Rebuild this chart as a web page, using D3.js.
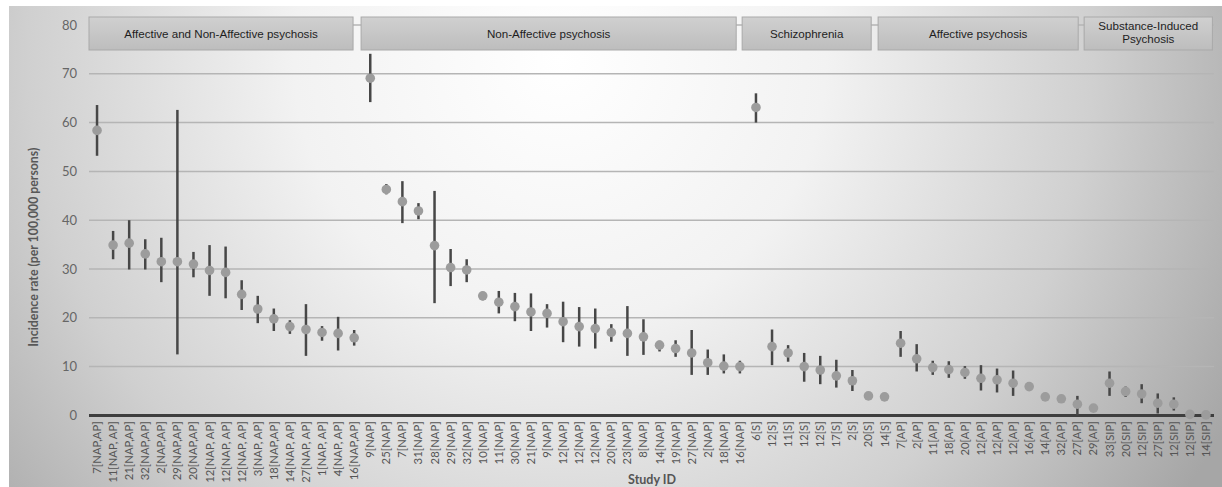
<!DOCTYPE html>
<html><head><meta charset="utf-8">
<script src="https://cdn.jsdelivr.net/npm/d3@7"></script>
<style>body{margin:0;background:#fff}svg{display:block}</style>
</head><body><svg id="c" width="1222" height="487"></svg>
<script>
// ---- data ----
const groupNames = ["Affective and Non-Affective psychosis","Non-Affective psychosis","Schizophrenia","Affective psychosis","Substance-Induced\nPsychosis"];
const categories = [
 "7[NAP,AP]","11[NAP, AP]","21[NAP,AP]","32[NAP,AP]","2[NAP,AP]","29[NAP,AP]","20[NAP,AP]","12[NAP, AP]","12[NAP, AP]","12[NAP, AP]","3[NAP, AP]","18[NAP,AP]","14[NAP, AP]","27[NAP, AP]","1[NAP, AP]","4[NAP, AP]","16[NAP,AP]",
 "9[NAP]","25[NAP]","7[NAP]","31[NAP]","28[NAP]","29[NAP]","32[NAP]","10[NAP]","11[NAP]","30[NAP]","21[NAP]","9[NAP]","12[NAP]","12[NAP]","12[NAP]","20[NAP]","23[NAP]","8[NAP]","14[NAP]","19[NAP]","27[NAP]","2[NAP]","18[NAP]","16[NAP]",
 "6[S]","12[S]","11[S]","12[S]","12[S]","17[S]","2[S]","20[S]","14[S]",
 "7[AP]","2[AP]","11[AP]","18[AP]","20[AP]","12[AP]","12[AP]","12[AP]","16[AP]","14[AP]","32[AP]","27[AP]","29[AP]",
 "33[SIP]","20[SIP]","12[SIP]","27[SIP]","12[SIP]","12[SIP]","14[SIP]"];
const groupOfCategory = [].concat(Array(17).fill(0),Array(24).fill(1),Array(9).fill(2),Array(13).fill(3),Array(7).fill(4));
const rate = [
 58.4,34.9,35.3,33.1,31.5,31.5,31.0,29.7,29.3,24.8,21.8,19.8,18.2,17.6,17.0,16.8,15.9,
 69.1,46.3,43.8,41.9,34.8,30.3,29.8,24.5,23.2,22.3,21.2,20.9,19.2,18.2,17.8,17.0,16.8,16.1,14.4,13.7,12.8,10.8,10.1,10.0,
 63.1,14.1,12.8,10.0,9.3,8.1,7.1,4.0,3.8,
 14.8,11.6,9.8,9.4,8.8,7.6,7.3,6.6,5.9,3.8,3.4,2.3,1.5,
 6.6,4.9,4.4,2.5,2.3,0.2,0.1];
const lower = [
 53.2,32.0,29.9,29.9,27.3,12.5,28.3,24.5,24.0,21.6,18.9,17.3,16.7,12.2,15.3,13.3,14.3,
 64.2,45.3,39.4,40.2,23.0,26.5,27.3,23.6,20.9,19.3,17.3,18.0,15.0,14.1,13.7,15.1,12.2,12.4,13.1,12.0,8.3,8.3,8.6,8.6,
 60.0,10.3,11.0,6.9,6.4,5.7,5.0,3.8,3.6,
 12.0,9.0,8.3,7.7,7.5,5.1,4.7,4.0,5.1,3.6,3.2,0.0,1.3,
 4.0,3.8,2.5,0.4,1.0,0.1,0.0];
const upper = [
 63.6,37.8,40.0,36.1,36.4,62.6,33.5,34.9,34.6,27.7,24.5,21.9,19.5,22.8,18.3,20.2,17.5,
 74.1,47.4,48.0,43.5,46.0,34.1,32.0,25.3,25.5,25.1,25.0,22.8,23.3,22.2,21.9,18.7,22.4,19.7,15.3,15.4,17.5,13.5,12.5,11.2,
 66.0,17.6,14.4,12.8,12.2,11.4,9.3,4.2,4.0,
 17.3,14.6,11.2,11.1,10.1,10.3,9.6,9.2,6.8,4.0,3.6,4.0,1.7,
 9.0,5.9,6.4,4.5,3.7,0.3,0.2];
const yTicks = [0,10,20,30,40,50,60,70,80];

// ---- layout ----
const W = 1222, H = 487;
const mLeft = 89, mRight = 1214, mTop = 25, mBottom = 415.4;
// header box spans in category-index units (start, end)
const headerSpan = [[-0.5,15.93],[16.43,39.77],[40.14,48.17],[48.6,61.05],[61.42,69.4]];

const svg = d3.select("#c");
const defs = svg.append("defs");
const bg = defs.append("radialGradient").attr("id","bg").attr("gradientUnits","userSpaceOnUse")
  .attr("cx",560).attr("cy",60).attr("r",760);
bg.append("stop").attr("offset",0).attr("stop-color","#ffffff");
bg.append("stop").attr("offset",0.35).attr("stop-color","#f2f2f2");
bg.append("stop").attr("offset",0.7).attr("stop-color","#d0d0d0");
bg.append("stop").attr("offset",1).attr("stop-color","#a6a6a6");
const hg = defs.append("linearGradient").attr("id","hg").attr("x1",0).attr("y1",0).attr("x2",0).attr("y2",1);
hg.append("stop").attr("offset",0).attr("stop-color","#d0d0d0");
hg.append("stop").attr("offset",1).attr("stop-color","#bdbdbd");

svg.append("rect").attr("x",9).attr("y",6).attr("width",W-9).attr("height",H-6).attr("fill","url(#bg)");

const idx = d3.range(categories.length);
const x = d3.scaleBand().domain(idx).range([mLeft,mRight]).padding(0);
const y = d3.scaleLinear().domain([0,80]).range([mBottom,mTop]);
const cx = i => x(i) + x.bandwidth()/2;

// gridlines
svg.append("g").selectAll("line").data(yTicks.filter(t=>t>0)).join("line")
  .attr("x1",mLeft).attr("x2",mRight).attr("y1",d=>y(d)).attr("y2",d=>y(d))
  .attr("stroke","#b5b5b5").attr("stroke-width",1.5);

// y axis labels
const ya = svg.append("g").attr("transform",`translate(${mLeft},0)`)
  .call(d3.axisLeft(y).tickValues(yTicks).tickSize(0).tickPadding(12));
ya.select(".domain").remove();
ya.selectAll("text").attr("font-family","Lato, 'Open Sans', sans-serif").attr("font-size",13).attr("fill","#666");

// header boxes
const hdr = svg.append("g");
headerSpan.forEach((s,k)=>{
  const x0 = mLeft + x.step()*(s[0]+0.5), x1 = mLeft + x.step()*(s[1]+0.5);
  hdr.append("rect").attr("x",x0).attr("y",17).attr("width",x1-x0).attr("height",33)
    .attr("fill","url(#hg)").attr("stroke","#a9a9a9").attr("stroke-width",1);
  const lines = groupNames[k].split("\n");
  const t = hdr.append("text").attr("x",(x0+x1)/2).attr("text-anchor","middle")
    .attr("font-family","'Liberation Sans', Arial, sans-serif").attr("font-size",11.6).attr("fill","#1e1e1e");
  lines.forEach((ln,j)=>{
    t.append("tspan").attr("x",(x0+x1)/2).attr("y", lines.length===1 ? 37.5 : 30 + j*13).text(ln);
  });
});

// zero axis line
svg.append("line").attr("x1",mLeft).attr("x2",mRight).attr("y1",y(0)).attr("y2",y(0))
  .attr("stroke","#3e3e3e").attr("stroke-width",3);

// error bars
svg.append("g").selectAll("line").data(idx).join("line")
  .attr("x1",cx).attr("x2",cx).attr("y1",i=>y(lower[i])).attr("y2",i=>y(upper[i]))
  .attr("stroke","#474747").attr("stroke-width",2.5);

// points
svg.append("g").selectAll("circle").data(idx).join("circle")
  .attr("cx",cx).attr("cy",i=>y(rate[i])).attr("r",4.8)
  .attr("fill","#9c9c9c");

// x axis labels
const xa = svg.append("g").attr("transform",`translate(0,${mBottom})`)
  .call(d3.axisBottom(x).tickSize(0).tickFormat(i=>categories[i]));
xa.select(".domain").remove();
xa.selectAll("text").attr("transform","rotate(-90)").attr("text-anchor","end")
  .attr("x",-6).attr("y",0).attr("dy","0.35em")
  .attr("font-family","Lato, 'Open Sans', sans-serif").attr("font-size",11.3).attr("fill","#555");

// axis titles
svg.append("text").attr("transform",`translate(38,${(mTop+mBottom)/2+27}) rotate(-90)`).attr("text-anchor","middle")
  .attr("font-family","Lato, 'Open Sans', sans-serif").attr("font-size",12.3).attr("font-weight","bold").attr("fill","#585858")
  .text("Incidence rate (per 100,000 persons)");
svg.append("text").attr("x",652).attr("y",484).attr("text-anchor","middle")
  .attr("font-family","Lato, 'Open Sans', sans-serif").attr("font-size",12.5).attr("font-weight","bold").attr("fill","#555")
  .text("Study ID");
</script></body></html>
